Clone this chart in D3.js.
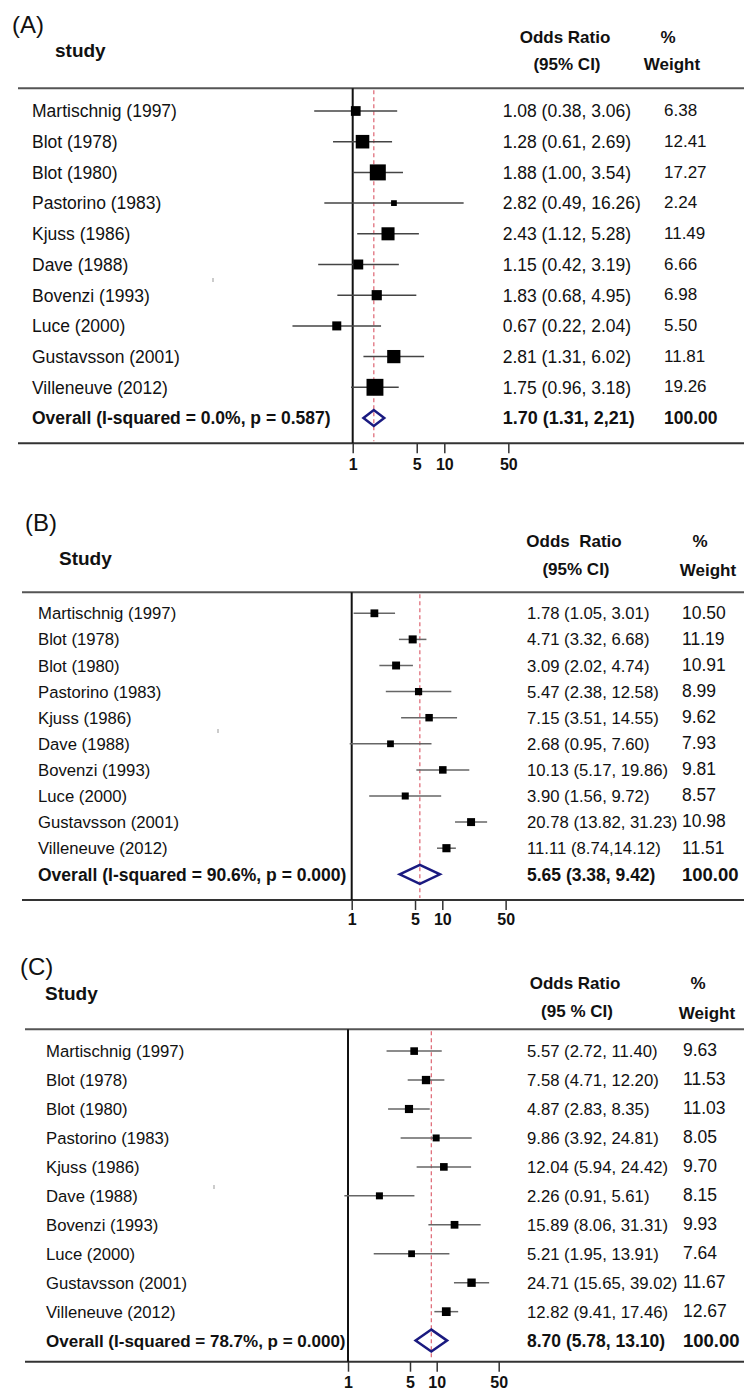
<!DOCTYPE html>
<html><head><meta charset="utf-8">
<script src="https://cdn.jsdelivr.net/npm/d3@7"></script>
<style>
body{margin:0;background:#fff}
text{font-family:"Liberation Sans",Arial,sans-serif;white-space:pre;fill:#111}
</style></head>
<body>
<svg id="chart" width="744" height="1391"></svg>
<script>
// ---------------- data ----------------
const studies = ["Martischnig (1997)","Blot (1978)","Blot (1980)","Pastorino (1983)","Kjuss (1986)",
  "Dave (1988)","Bovenzi (1993)","Luce (2000)","Gustavsson (2001)","Villeneuve (2012)"];
const tickValues = [1, 5, 10, 50];

// Panel A
const orA = [1.08,1.28,1.88,2.82,2.43,1.15,1.83,0.67,2.81,1.75];
const loA = [0.38,0.61,1.00,0.49,1.12,0.42,0.68,0.22,1.31,0.96];
const hiA = [3.06,2.69,3.54,16.26,5.28,3.19,4.95,2.04,6.02,3.18];
const wA  = [6.38,12.41,17.27,2.24,11.49,6.66,6.98,5.50,11.81,19.26];
const ciTextA = ["1.08 (0.38, 3.06)","1.28 (0.61, 2.69)","1.88 (1.00, 3.54)","2.82 (0.49, 16.26)","2.43 (1.12, 5.28)",
  "1.15 (0.42, 3.19)","1.83 (0.68, 4.95)","0.67 (0.22, 2.04)","2.81 (1.31, 6.02)","1.75 (0.96, 3.18)"];
const wTextA = ["6.38","12.41","17.27","2.24","11.49","6.66","6.98","5.50","11.81","19.26"];
const overallA = [1.70, 1.31, 2.21];
const overallTextA = ["Overall (I-squared = 0.0%, p = 0.587)", "1.70 (1.31, 2,21)", "100.00"];
const headerA = ["(A)", "study", "Odds Ratio", "(95% CI)", "%", "Weight"];

// Panel B
const orB = [1.78,4.71,3.09,5.47,7.15,2.68,10.13,3.90,20.78,11.11];
const loB = [1.05,3.32,2.02,2.38,3.51,0.95,5.17,1.56,13.82,8.74];
const hiB = [3.01,6.68,4.74,12.58,14.55,7.60,19.86,9.72,31.23,14.12];
const wB  = [10.50,11.19,10.91,8.99,9.62,7.93,9.81,8.57,10.98,11.51];
const ciTextB = ["1.78 (1.05, 3.01)","4.71 (3.32, 6.68)","3.09 (2.02, 4.74)","5.47 (2.38, 12.58)","7.15 (3.51, 14.55)",
  "2.68 (0.95, 7.60)","10.13 (5.17, 19.86)","3.90 (1.56, 9.72)","20.78 (13.82, 31.23)","11.11 (8.74,14.12)"];
const wTextB = ["10.50","11.19","10.91","8.99","9.62","7.93","9.81","8.57","10.98","11.51"];
const overallB = [5.65, 3.38, 9.42];
const overallTextB = ["Overall (I-squared = 90.6%, p = 0.000)", "5.65 (3.38, 9.42)", "100.00"];
const headerB = ["(B)", "Study", "Odds  Ratio", "(95% CI)", "%", "Weight"];

// Panel C
const orC = [5.57,7.58,4.87,9.86,12.04,2.26,15.89,5.21,24.71,12.82];
const loC = [2.72,4.71,2.83,3.92,5.94,0.91,8.06,1.95,15.65,9.41];
const hiC = [11.40,12.20,8.35,24.81,24.42,5.61,31.31,13.91,39.02,17.46];
const wC  = [9.63,11.53,11.03,8.05,9.70,8.15,9.93,7.64,11.67,12.67];
const ciTextC = ["5.57 (2.72, 11.40)","7.58 (4.71, 12.20)","4.87 (2.83, 8.35)","9.86 (3.92, 24.81)","12.04 (5.94, 24.42)",
  "2.26 (0.91, 5.61)","15.89 (8.06, 31.31)","5.21 (1.95, 13.91)","24.71 (15.65, 39.02)","12.82 (9.41, 17.46)"];
const wTextC = ["9.63","11.53","11.03","8.05","9.70","8.15","9.93","7.64","11.67","12.67"];
const overallC = [8.70, 5.78, 13.10];
const overallTextC = ["Overall (I-squared = 78.7%, p = 0.000)", "8.70 (5.78, 13.10)", "100.00"];
const headerC = ["(C)", "Study", "Odds Ratio", "(95 % CI)", "%", "Weight"];

// ---------------- layout ----------------
const svg = d3.select("#chart");
const W = 744;

function panel(d, L) {
  const g = svg.append("g");
  const x = d3.scaleLog().domain([1, 10]).range([L.x1, L.x1 + L.dec]);
  const y = i => L.row0 + i * L.step;
  const n = d.or.length;

  // headers
  g.append("text").attr("x", L.tag[0]).attr("y", L.tag[1]).attr("font-size", 24).text(d.header[0]);
  g.append("text").attr("x", L.study[0]).attr("y", L.study[1]).attr("font-size", 19).attr("font-weight", "bold").text(d.header[1]);
  g.append("text").attr("x", L.orH[0]).attr("y", L.orH[1]).attr("font-size", 17).attr("font-weight", "bold").attr("text-anchor", "middle").text(d.header[2]);
  g.append("text").attr("x", L.orH[0] + 2).attr("y", L.orH[2]).attr("font-size", 17).attr("font-weight", "bold").attr("text-anchor", "middle").text(d.header[3]);
  g.append("text").attr("x", L.wH[0]).attr("y", L.wH[1]).attr("font-size", 17).attr("font-weight", "bold").attr("text-anchor", "middle").text(d.header[4]);
  g.append("text").attr("x", L.wH[3]).attr("y", L.wH[2]).attr("font-size", 17).attr("font-weight", "bold").attr("text-anchor", "middle").text(d.header[5]);

  // frame lines
  g.append("line").attr("x1", L.x0).attr("x2", W).attr("y1", L.top).attr("y2", L.top).attr("stroke", "#555").attr("stroke-width", 2);
  g.append("line").attr("x1", L.x0).attr("x2", W).attr("y1", L.bottom).attr("y2", L.bottom).attr("stroke", "#333").attr("stroke-width", 2);

  // axis ticks
  const axis = d3.axisBottom(x).tickValues(tickValues).tickFormat(d3.format("d")).tickSize(10).tickPadding(4);
  const ax = g.append("g").attr("transform", `translate(0,${L.bottom})`).call(axis);
  ax.select(".domain").remove();
  ax.selectAll(".tick line").attr("stroke", "#333").attr("stroke-width", 1.5);
  ax.selectAll(".tick text").attr("font-size", 16).attr("font-weight", "bold").attr("fill", "#111")
    .attr("font-family", '"Liberation Sans",Arial,sans-serif').attr("dy", null).attr("y", L.tickY - L.bottom);

  // null line
  g.append("line").attr("x1", x(1)).attr("x2", x(1)).attr("y1", L.top).attr("y2", L.bottom).attr("stroke", "#111").attr("stroke-width", 2);
  // overall dashed line
  g.append("line").attr("x1", x(d.overall[0])).attr("x2", x(d.overall[0])).attr("y1", L.top + 2).attr("y2", L.bottom - 2)
    .attr("stroke", "#e0707c").attr("stroke-width", 1.3).attr("stroke-dasharray", "4,3");

  // artifact tick mark
  g.append("line").attr("x1", L.mark[0]).attr("x2", L.mark[0]).attr("y1", L.mark[1]).attr("y2", L.mark[1] + 4).attr("stroke", "#999").attr("stroke-width", 1);

  const idx = d3.range(n);
  // CI lines
  g.selectAll(".ci").data(idx).join("line")
    .attr("x1", i => x(d.lo[i])).attr("x2", i => x(d.hi[i]))
    .attr("y1", i => y(i)).attr("y2", i => y(i))
    .attr("stroke", L.ciColor).attr("stroke-width", 1.5);
  // squares
  g.selectAll(".sq").data(idx).join("rect")
    .attr("x", i => x(d.or[i]) - L.k * Math.sqrt(d.w[i]) / 2)
    .attr("y", i => y(i) - L.k * Math.sqrt(d.w[i]) / 2)
    .attr("width", i => L.k * Math.sqrt(d.w[i]))
    .attr("height", i => L.k * Math.sqrt(d.w[i]))
    .attr("fill", "#000");
  // diamond
  const yo = y(n);
  const dm = [[x(d.overall[1]), yo], [x(d.overall[0]), yo - L.dh], [x(d.overall[2]), yo], [x(d.overall[0]), yo + L.dh]];
  g.append("path").attr("d", "M" + dm.map(p => p.join(",")).join("L") + "Z")
    .attr("fill", "none").attr("stroke", "#1a1a80").attr("stroke-width", 2.5);

  // texts
  g.selectAll(".lab").data(idx).join("text")
    .attr("x", L.labX).attr("y", i => y(i) + L.fs * 0.36).attr("font-size", L.fs).attr("fill", "#222").text(i => d.studies[i]);
  g.selectAll(".cit").data(idx).join("text")
    .attr("x", L.ciX).attr("y", i => y(i) + L.fs * 0.36).attr("font-size", L.fs).attr("fill", "#222").text(i => d.ciText[i]);
  g.selectAll(".wt").data(idx).join("text")
    .attr("x", L.wX).attr("y", i => y(i) + L.wfs * 0.36 - 1).attr("font-size", L.wfs).attr("fill", "#222").text(i => d.wText[i]);
  g.append("text").attr("x", L.labX).attr("y", yo + L.ofs[0] * 0.36).attr("font-size", L.ofs[0]).attr("font-weight", "bold").text(d.overallText[0]);
  g.append("text").attr("x", L.ciX).attr("y", yo + L.ofs[1] * 0.36).attr("font-size", L.ofs[1]).attr("font-weight", "bold").text(d.overallText[1]);
  g.append("text").attr("x", L.wX).attr("y", yo + L.ofs[2] * 0.36).attr("font-size", L.ofs[2]).attr("font-weight", "bold").text(d.overallText[2]);
}

panel({studies, or: orA, lo: loA, hi: hiA, w: wA, ciText: ciTextA, wText: wTextA, overall: overallA, overallText: overallTextA, header: headerA},
  {tag: [12, 33], study: [55, 57], orH: [565, 43, 70], wH: [668, 43, 70, 672], top: 88.3, x0: 18, row0: 111, step: 30.7,
   labX: 32, fs: 17.5, wfs: 17, ofs: [17.5, 18, 17.5], ciX: 502.7, wX: 664, bottom: 443.3, x1: 352.7, dec: 91.6, tickY: 470, k: 3.85, dh: 8,
   ciColor: "#444", mark: [213, 278]});

panel({studies, or: orB, lo: loB, hi: hiB, w: wB, ciText: ciTextB, wText: wTextB, overall: overallB, overallText: overallTextB, header: headerB},
  {tag: [25, 531], study: [59, 565], orH: [574, 547, 575], wH: [700, 547, 576, 708], top: 592.3, x0: 22, row0: 613.3, step: 26.1,
   labX: 38, fs: 16.7, wfs: 17.5, ofs: [17.5, 17.5, 18.5], ciX: 527, wX: 682, bottom: 900, x1: 351.7, dec: 90.6, tickY: 925, k: 2.4, dh: 9.5,
   ciColor: "#666", mark: [218, 729]});

panel({studies, or: orC, lo: loC, hi: hiC, w: wC, ciText: ciTextC, wText: wTextC, overall: overallC, overallText: overallTextC, header: headerC},
  {tag: [20, 975], study: [45, 1000], orH: [575, 989, 1017], wH: [698, 989, 1019, 707], top: 1029.3, x0: 25, row0: 1051.1, step: 28.95,
   labX: 46, fs: 16.7, wfs: 17.5, ofs: [17, 17.5, 18.5], ciX: 527, wX: 683, bottom: 1361.7, x1: 348, dec: 88.7, tickY: 1388, k: 2.45, dh: 11,
   ciColor: "#666", mark: [214, 1185]});
</script>
</body></html>
